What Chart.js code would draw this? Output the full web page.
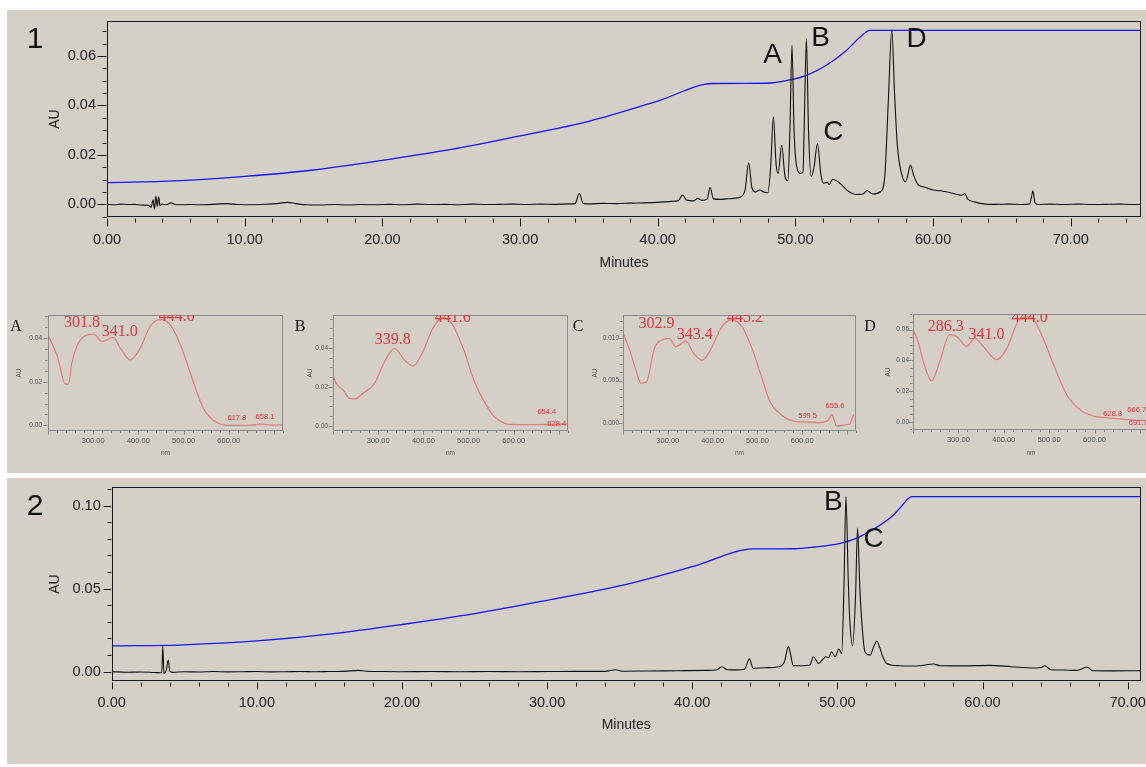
<!DOCTYPE html>
<html>
<head>
<meta charset="utf-8">
<script src="https://cdn.jsdelivr.net/npm/chart.js@4.4.1/dist/chart.umd.min.js"></script>
<style>
body{margin:0;background:#fff;overflow:hidden}
#wrap{position:relative;width:1146px;height:767px;overflow:hidden;background:#fff}
.panel{position:absolute;background:#d4d0c8}
canvas{position:absolute}
</style>
</head>
<body>
<div id="wrap">
  <div class="panel" style="left:7px;top:10px;width:1139px;height:463px"></div>
  <div class="panel" style="left:7px;top:478px;width:1139px;height:286px"></div>
  <canvas id="chrom1" width="1139" height="283" style="left:7px;top:10px"></canvas>
  <canvas id="chrom2" width="1139" height="287" style="left:7px;top:478px"></canvas>
  <canvas id="specA" width="285" height="168" style="left:2px;top:300px"></canvas>
  <canvas id="specB" width="286" height="168" style="left:286px;top:300px"></canvas>
  <canvas id="specC" width="296" height="168" style="left:564px;top:300px"></canvas>
  <canvas id="specD" width="297" height="168" style="left:856px;top:300px"></canvas>
</div>
<script>
// --- chromatogram 1 (minutes / AU) ---
const chrom1Time = [0,0.5,1,1.5,2,2.5,3,3.2,3.35,3.45,3.55,3.65,3.75,3.85,4,4.3,4.65,5,6,7,8,8.7,9.5,10.5,11.5,12.5,13.1,13.7,14.5,15.5,16.5,17.5,18.5,19.5,20.5,21.5,22.5,23.5,24.5,25.5,26.5,27.5,28.5,29.5,30.5,31.5,32.5,33.5,34,34.3,34.6,35,36,37,38,39,40,41,41.5,41.8,42.1,42.6,42.9,43.2,43.6,43.8,44.05,44.5,45,45.5,46,46.35,46.6,46.85,47.1,47.4,47.7,48,48.2,48.4,48.6,48.75,49,49.25,49.45,49.6,49.75,49.9,50.1,50.35,50.55,50.65,50.8,50.95,51.15,51.35,51.6,51.85,52.05,52.3,52.45,52.7,53,53.3,53.9,54.4,54.9,55.2,55.6,56.2,56.5,56.75,57,57.2,57.4,57.7,58,58.15,58.35,58.6,58.9,59.3,60,60.5,61.2,61.9,62.1,62.3,62.5,63,63.8,64.5,65.5,66.5,67,67.15,67.25,67.4,67.6,68.5,69.5,70.5,71.5,72.5,73.5,74.5,75.1];
const chrom1AU = [0,-0.0002,0.0001,-0.0001,0,-0.0003,-0.0004,-0.0012,0.0018,-0.002,0.0034,-0.0008,0.003,-0.0006,0.0001,-0.0002,0.0006,-0.0002,-0.0001,-0.0002,0.0001,0.0003,-0.0001,-0.0002,0,0.0004,0.0008,0.0003,-0.0002,-0.0003,-0.0001,-0.0003,-0.0001,-0.0002,0,-0.0002,0.0001,-0.0001,0,-0.0002,0.0001,-0.0001,0,0.0001,-0.0001,0.0001,0,0.0002,0.0003,0.0044,0.0003,0.0002,0.0004,0.0003,0.0005,0.0006,0.0008,0.0012,0.0015,0.0038,0.0017,0.0014,0.0024,0.0016,0.0022,0.0069,0.0022,0.002,0.0022,0.0024,0.003,0.006,0.0168,0.0065,0.005,0.0058,0.005,0.0047,0.015,0.0354,0.016,0.0125,0.024,0.011,0.0095,0.03,0.0644,0.03,0.015,0.0125,0.013,0.035,0.0671,0.03,0.0112,0.015,0.0246,0.012,0.0085,0.009,0.008,0.0101,0.0095,0.0082,0.0051,0.004,0.0042,0.0055,0.0042,0.0052,0.012,0.0421,0.0707,0.045,0.024,0.0126,0.0091,0.0115,0.0159,0.0115,0.008,0.0071,0.0058,0.0055,0.0048,0.0038,0.0036,0.0044,0.0022,0.001,0.0001,0,0.0001,-0.0001,0.0001,0.003,0.0055,0.0006,-0.0001,0.0001,-0.0001,0.0001,-0.0001,0,0.0001,-0.0001,0];
const grad1Time = [0,5,10,15,20,25,30,35,40,44,47.9,49.7,50.8,52.25,53.7,54.67,55.4,75.1];
const grad1AU = [0.0088,0.0095,0.0113,0.0139,0.0178,0.0222,0.0277,0.0336,0.0418,0.0489,0.049,0.0505,0.0522,0.0563,0.0623,0.0675,0.0704,0.0704];
const xTicks1 = [0,10,20,30,40,50,60,70];
const yTicks1 = [0,0.02,0.04,0.06];
const peaks1 = ['A','B','C','D'];
const peaks1Time = [48.35,51.82,52.76,58.8];
const peaks1AU = [0.0603,0.0674,0.029,0.0668];

// --- chromatogram 2 ---
const chrom2Time = [0,1,2,3,3.45,3.52,3.6,3.75,3.9,4,4.2,5,6,7,8,9,10,11,12,13,14,15,16,17,17.5,18.5,20,22,24,26,28,30,32,34,34.7,35.2,37,39,41,41.7,42.04,42.4,43,43.6,43.94,44.2,45,46,46.35,46.63,46.97,47.5,48.1,48.35,48.7,49,49.2,49.4,49.6,49.85,50.1,50.3,50.45,50.59,50.75,50.85,51.05,51.25,51.39,51.55,51.7,51.9,52.26,52.5,52.72,52.9,53.1,53.4,54.3,55.5,56.6,57.1,58.5,60.5,62,63.5,64,64.3,64.7,65.5,66.5,67.2,67.6,69,70.9];
const chrom2AU = [0,-0.0003,-0.0002,-0.0005,-0.0006,0.0155,-0.001,0.0005,0.007,0.0003,-0.0004,0,-0.0002,0.0001,-0.0001,0,0.0001,-0.0001,0,0.0001,0,0.0001,0.0002,0.0008,0.0003,0.0001,0,0.0001,0,0.0001,0,0.0001,0.0002,0.0002,0.0012,0.0003,0.0004,0.0006,0.0008,0.0012,0.003,0.0012,0.0011,0.0015,0.0077,0.002,0.0024,0.003,0.006,0.0151,0.0036,0.0036,0.004,0.009,0.005,0.0075,0.009,0.0085,0.012,0.009,0.0137,0.011,0.05,0.1054,0.055,0.032,0.0155,0.045,0.0864,0.05,0.028,0.012,0.01,0.015,0.0185,0.015,0.0097,0.005,0.0036,0.0034,0.0046,0.0036,0.0035,0.0038,0.003,0.0022,0.0024,0.0036,0.0012,0.001,0.0008,0.0028,0.0006,0.0005,0.0006];
const grad2Time = [0,5,10,15,20,25,30,35,40,44.2,47,48.3,50.2,51.3,52.5,53.75,54.3,55.13,70.9];
const grad2AU = [0.0155,0.0162,0.0185,0.0226,0.0284,0.035,0.043,0.0516,0.0632,0.0739,0.074,0.0749,0.0773,0.0803,0.0858,0.0934,0.0984,0.1054,0.1054];
const xTicks2 = [0,10,20,30,40,50,60,70];
const yTicks2 = [0,0.05,0.1];
const peaks2 = ['B','C'];
const peaks2Time = [49.73,52.49];
const peaks2AU = [0.1018,0.0798];

// --- UV spectra (nm / AU) ---
const specXTicks = [300,400,500,600];
const specANm = [200,220,238,245,253,275,301,320,345,360,382,404,426,448,471,496,519,544,566,596,640,660,668,677,690,720];
const specAAU = [0.0415,0.032,0.019,0.0188,0.029,0.04,0.0418,0.0385,0.0403,0.0354,0.03,0.0354,0.0454,0.0485,0.046,0.0354,0.0215,0.0077,0.0023,0,0,0.0003,0.0006,0.0005,0.0001,0.0002];
const specAPeaks = ['301.8','341.0','444.0','617.8','658.1'];
const specAPeakNm = [275,359,485,618,680];
const specAPeakAU = [0.0469,0.0428,0.0497,0.0032,0.0037];

const specBNm = [200,207,222,237,248,266,292,314,336,358,377,399,421,443,465,488,513,539,561,591,650,690,720];
const specBAU = [0.026,0.0217,0.0183,0.014,0.0137,0.0166,0.0217,0.0328,0.0397,0.0337,0.0306,0.038,0.05,0.0554,0.0516,0.0397,0.0226,0.0106,0.0038,0.0007,0.0006,0.0007,0.0008];
const specBPeaks = ['339.8','441.6','654.4','628.4'];
const specBPeakNm = [332,465,673,695];
const specBPeakAU = [0.044,0.0552,0.007,0.0009];

const specCNm = [200,215,229,240,252,270,292,303,318,340,358,377,395,421,443,465,488,510,528,554,580,606,635,650,658,666,672,676,690,705,715];
const specCAU = [0.0106,0.0086,0.0062,0.0047,0.0048,0.0088,0.0099,0.01,0.009,0.0097,0.0082,0.0074,0.0086,0.0114,0.0122,0.0114,0.0088,0.0053,0.0025,0.0009,0.0002,0.0001,0,0.0001,0.0003,0.001,0.0002,-0.0004,-0.0003,-0.0002,0.001];
const specCPeaks = ['302.9','343.4','445.2','599.5','655.6'];
const specCPeakNm = [275,360,472,612,673];
const specCPeakAU = [0.0117,0.0104,0.0124,0.0008,0.002];

const specDNm = [200,211,226,241,259,281,296,318,336,355,384,407,432,458,480,510,539,569,598,642,687,720];
const specDAU = [0.06,0.0524,0.036,0.0266,0.0393,0.0567,0.0556,0.049,0.0545,0.049,0.0404,0.048,0.0655,0.0687,0.0589,0.037,0.0175,0.0076,0.0037,0.0022,0.0011,0.0005];
const specDPeaks = ['286.3','341.0','444.0','628.8','666.7','691.7'];
const specDPeakNm = [272,362,457,640,693,696];
const specDPeakAU = [0.0619,0.0567,0.0678,0.005,0.0076,-0.001];

const SANS = "'Liberation Sans', Arial, sans-serif";
const SERIF = "'Liberation Serif', 'Times New Roman', serif";

function marks(min, max, step, major, fn) {
  const k0 = Math.ceil(min / step - 1e-6), k1 = Math.floor(max / step + 1e-6);
  for (let k = k0; k <= k1; k++) {
    const v = k * step, r = v / major;
    fn(v, Math.abs(r - Math.round(r)) < 1e-6);
  }
}

// frame, minor/major tick marks and text labels
const frameTicks = {
  id: 'frameTicks',
  afterDraw(chart, args, o) {
    const {ctx, chartArea: a} = chart;
    const x = chart.scales.x, y = chart.scales.y;
    const L = Math.round(a.left) + 0.5, R = Math.round(a.right) - 0.5;
    const T = Math.round(a.top) + 0.5, B = Math.round(a.bottom) - 0.5;
    ctx.save();
    ctx.strokeStyle = o.color;
    ctx.lineWidth = 1;
    ctx.strokeRect(L, T, R - L, B - T);
    ctx.beginPath();
    marks(x.min, x.max, o.xMinor, o.xMajor, (v, major) => {
      const px = Math.round(x.getPixelForValue(v)) + 0.5;
      ctx.moveTo(px, B + o.gap);
      ctx.lineTo(px, B + o.gap + (major ? o.xLen : o.minLen));
    });
    marks(y.min, y.max, o.yMinor, o.yMajor, (v, major) => {
      const py = Math.round(y.getPixelForValue(v)) + 0.5;
      ctx.moveTo(L - 1, py);
      ctx.lineTo(L - 1 - (major ? o.yLen : o.minLen), py);
    });
    ctx.stroke();
    ctx.textAlign = 'center';
    ctx.textBaseline = 'middle';
    (o.fixed || []).forEach(t => {
      ctx.font = t.font;
      ctx.fillStyle = t.color;
      ctx.fillText(t.text, t.px, t.py);
    });
    if (o.clip) {
      ctx.beginPath();
      ctx.rect(a.left, a.top, a.right - a.left, a.bottom - a.top);
      ctx.clip();
    }
    (o.labels || []).forEach(t => {
      ctx.font = t.font;
      ctx.fillStyle = t.color;
      ctx.fillText(t.text, x.getPixelForValue(t.x), y.getPixelForValue(t.y));
    });
    ctx.restore();
  }
};
Chart.register(frameTicks);

function pts(xs, ys) {
  return xs.map((v, i) => ({x: v, y: ys[i]}));
}

// fixed axis sizes, and no extra room for half labels at the ends
function fixX(h) {
  return sc => { sc.height = h; sc.paddingLeft = 0; sc.paddingRight = 0; };
}
function fixY(w) {
  return sc => { sc.width = w; sc.paddingTop = 0; sc.paddingBottom = 0; };
}

function chromChart(id, s) {
  const f = {family: SANS, size: 14.5};
  return new Chart(document.getElementById(id), {
    type: 'line',
    data: {
      datasets: [
        {data: pts(s.time, s.au), borderColor: '#111', borderWidth: 1.1, pointRadius: 0, cubicInterpolationMode: 'monotone'},
        {data: pts(s.gTime, s.gAU), borderColor: '#1414ff', borderWidth: 1.3, pointRadius: 0, cubicInterpolationMode: 'monotone'}
      ]
    },
    options: {
      responsive: false,
      animation: false,
      events: [],
      layout: {padding: {left: 0, top: s.padTop, right: s.padRight, bottom: 0}},
      plugins: {
        legend: {display: false},
        tooltip: {enabled: false},
        frameTicks: {
          color: '#1a1a1a', gap: 2, xLen: s.xLen, yLen: s.yLen, minLen: 4,
          xMinor: 2, xMajor: 10, yMinor: s.yMinor, yMajor: s.yMajor,
          fixed: [{text: s.num, px: 28, py: s.numY, font: '30px ' + SANS, color: '#111'}],
          labels: s.peaks.map((p, i) => ({text: p, x: s.peakTime[i], y: s.peakAU[i], font: '28px ' + SANS, color: '#111'}))
        }
      },
      scales: {
        x: {
          type: 'linear', min: 0, max: s.xMax,
          afterBuildTicks: sc => { sc.ticks = s.xTicks.map(v => ({value: v})); },
          afterFit: fixX(s.xH),
          grid: {display: false, drawTicks: false},
          border: {display: false},
          ticks: {padding: s.xPad, color: '#222', font: f, maxRotation: 0, autoSkip: false, callback: v => v.toFixed(2)},
          title: {display: true, text: 'Minutes', color: '#222', font: {family: SANS, size: 14}, padding: {top: 0, bottom: s.titleBottom}}
        },
        y: {
          type: 'linear', min: s.yMin, max: s.yMax,
          afterBuildTicks: sc => { sc.ticks = s.yTicks.map(v => ({value: v})); },
          afterFit: fixY(s.yW),
          grid: {display: false, drawTicks: false},
          border: {display: false},
          ticks: {padding: 11, color: '#222', font: f, autoSkip: false, callback: v => v.toFixed(2)},
          title: {display: true, text: 'AU', color: '#222', font: {family: SANS, size: 14}, padding: {top: 39.6, bottom: 0}}
        }
      }
    }
  });
}

chromChart('chrom1', {
  time: chrom1Time, au: chrom1AU, gTime: grad1Time, gAU: grad1AU,
  xTicks: xTicks1, yTicks: yTicks1, peaks: peaks1, peakTime: peaks1Time, peakAU: peaks1AU,
  num: '1', numY: 30, padTop: 11, padRight: 5, yW: 100, xH: 76, xMax: 75.1,
  yMin: -0.00513, yMax: 0.0742, yMinor: 0.005, yMajor: 0.02,
  xPad: 14, titleBottom: 21.6, xLen: 8, yLen: 9
});

chromChart('chrom2', {
  time: chrom2Time, au: chrom2AU, gTime: grad2Time, gAU: grad2AU,
  xTicks: xTicks2, yTicks: yTicks2, peaks: peaks2, peakTime: peaks2Time, peakAU: peaks2AU,
  num: '2', numY: 28.5, padTop: 9.3, padRight: 5.3, yW: 104.7, xH: 84, xMax: 70.9,
  yMin: -0.0056, yMax: 0.111, yMinor: 0.01, yMajor: 0.05,
  xPad: 13, titleBottom: 31.6, xLen: 7, yLen: 8
});

function specChart(id, s) {
  return new Chart(document.getElementById(id), {
    type: 'line',
    data: {
      datasets: [{data: pts(s.nm, s.au), borderColor: '#e5807c', borderWidth: 1.3, pointRadius: 0, cubicInterpolationMode: 'monotone'}]
    },
    options: {
      responsive: false,
      animation: false,
      events: [],
      layout: {padding: {left: 0, top: s.padTop, right: 4, bottom: 0}},
      plugins: {
        legend: {display: false},
        tooltip: {enabled: false},
        frameTicks: {
          color: '#8a8a8a', gap: 0, xLen: 4, yLen: 4, minLen: 2.5,
          xMinor: 20, xMajor: 100, yMinor: s.yMinor, yMajor: s.yMajor, clip: true,
          fixed: [{text: s.letter, px: 14, py: 27, font: '16px ' + SERIF, color: '#111'}],
          labels: s.peaks.map((p, i) => ({
            text: p, x: s.peakNm[i], y: s.peakAU[i],
            font: (i < s.big ? '16px ' + SERIF : '7.5px ' + SANS), color: '#e8343c'
          }))
        }
      },
      scales: {
        x: {
          type: 'linear', min: 200, max: 720,
          afterBuildTicks: sc => { sc.ticks = specXTicks.map(v => ({value: v})); },
          afterFit: fixX(s.xH),
          grid: {display: false, drawTicks: false},
          border: {display: false},
          ticks: {padding: 5.5, color: '#555', font: {family: SANS, size: 7.5}, maxRotation: 0, autoSkip: false, callback: v => v.toFixed(2)},
          title: {display: true, text: 'nm', color: '#555', font: {family: SANS, size: 6.5}, padding: {top: 0, bottom: 11}}
        },
        y: {
          type: 'linear', min: s.yMin, max: s.yMax,
          afterBuildTicks: sc => { sc.ticks = s.yTicks.map(v => ({value: v})); },
          afterFit: fixY(s.yW),
          grid: {display: false, drawTicks: false},
          border: {display: false},
          ticks: {padding: s.yPad, color: '#555', font: {family: SANS, size: 6.5}, autoSkip: false, callback: v => v.toFixed(s.dec)},
          title: {display: true, text: 'AU', color: '#555', font: {family: SANS, size: 6.5}, padding: {top: s.auX - 3.9, bottom: 0}}
        }
      }
    }
  });
}

specChart('specA', {letter: 'A', nm: specANm, au: specAAU, peaks: specAPeaks, peakNm: specAPeakNm, peakAU: specAPeakAU, big: 3,
  yTicks: [0, 0.02, 0.04], dec: 2, yMin: -0.0026, yMax: 0.0506, yMinor: 0.005, yMajor: 0.02,
  padTop: 15, xH: 37, yW: 46, yPad: 6, auX: 17});
specChart('specB', {letter: 'B', nm: specBNm, au: specBAU, peaks: specBPeaks, peakNm: specBPeakNm, peakAU: specBPeakAU, big: 2,
  yTicks: [0, 0.02, 0.04], dec: 2, yMin: -0.0027, yMax: 0.0568, yMinor: 0.005, yMajor: 0.02,
  padTop: 15, xH: 37, yW: 47, yPad: 5, auX: 24});
specChart('specC', {letter: 'C', nm: specCNm, au: specCAU, peaks: specCPeaks, peakNm: specCPeakNm, peakAU: specCPeakAU, big: 3,
  yTicks: [0, 0.005, 0.01], dec: 3, yMin: -0.00098, yMax: 0.01276, yMinor: 0.001, yMajor: 0.005,
  padTop: 15, xH: 37, yW: 59, yPad: 4, auX: 31});
specChart('specD', {letter: 'D', nm: specDNm, au: specDAU, peaks: specDPeaks, peakNm: specDPeakNm, peakAU: specDPeakAU, big: 3,
  yTicks: [0, 0.02, 0.04, 0.06], dec: 2, yMin: -0.0054, yMax: 0.0702, yMinor: 0.005, yMajor: 0.02,
  padTop: 14, xH: 38, yW: 57, yPad: 4, auX: 32});
</script>
</body>
</html>
